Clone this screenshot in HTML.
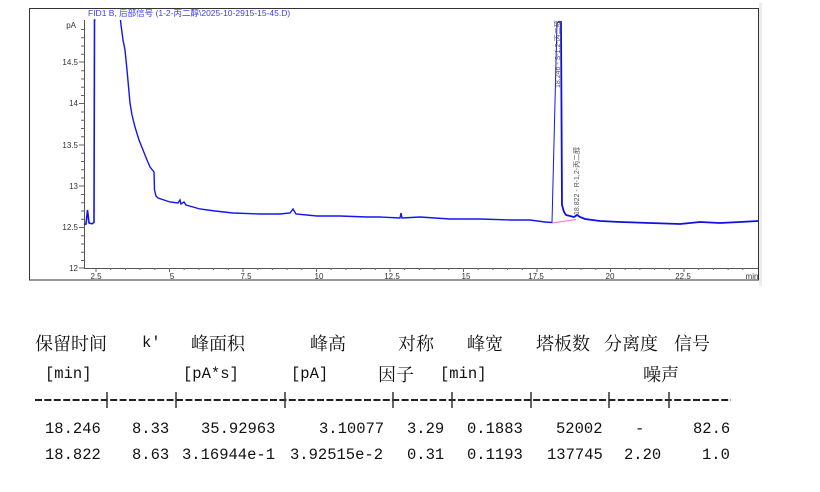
<!DOCTYPE html>
<html><head><meta charset="utf-8"><style>
html,body{margin:0;padding:0;background:#fff;width:820px;height:492px;overflow:hidden}
.t{position:absolute;font-family:"Liberation Mono","Noto Serif CJK SC",monospace;font-size:15.5px;color:#111;white-space:pre;line-height:1}
.c{font-family:"Noto Serif CJK SC","Liberation Serif",serif;font-size:18px}
</style></head><body>
<svg width="820" height="492" style="position:absolute;left:0;top:0" font-family="Liberation Sans, Noto Sans CJK SC, sans-serif">
<rect x="759" y="3" width="3" height="283" fill="#ececec"/>
<rect x="29.5" y="8.5" width="729" height="271.5" fill="none" stroke="#333" stroke-width="1"/>
<line x1="84.5" y1="20" x2="84.5" y2="268" stroke="#555"/>
<line x1="84" y1="268.5" x2="758" y2="268.5" stroke="#555"/>
<g stroke="#666" stroke-width="1">
<path d="M84 62h-5M84 103.5h-5M84 145h-5M84 186h-5M84 227.5h-5M84 268h-5"/>
<path d="M84 29.5h-3M84 37.8h-3M84 46h-3M84 54.3h-3M84 70.8h-3M84 79h-3M84 87.3h-3M84 95.5h-3M84 112h-3M84 120.3h-3M84 128.5h-3M84 136.8h-3M84 153.3h-3M84 161.5h-3M84 169.8h-3M84 178h-3M84 194.5h-3M84 202.8h-3M84 211h-3M84 219.3h-3M84 235.8h-3M84 244h-3M84 252.3h-3M84 260.5h-3"/>
<path d="M96 268v4M169.5 268v4M243 268v4M316.5 268v4M390 268v4M463.5 268v4M537 268v4M610.5 268v4M684 268v4"/>
<path d="M110.7 268v2M125.4 268v2M140.1 268v2M154.8 268v2M184.2 268v2M198.9 268v2M213.6 268v2M228.3 268v2M257.7 268v2M272.4 268v2M287.1 268v2M301.8 268v2M331.2 268v2M345.9 268v2M360.6 268v2M375.3 268v2M404.7 268v2M419.4 268v2M434.1 268v2M448.8 268v2M478.2 268v2M492.9 268v2M507.6 268v2M522.3 268v2M551.7 268v2M566.4 268v2M581.1 268v2M595.8 268v2M625.2 268v2M639.9 268v2M654.6 268v2M669.3 268v2M698.7 268v2M713.4 268v2M728.1 268v2M742.8 268v2"/>
</g>
<g font-size="8" fill="#333" text-anchor="end">
<text x="78" y="65">14.5</text><text x="78" y="106">14</text><text x="78" y="148">13.5</text><text x="78" y="189">13</text><text x="78" y="230">12.5</text><text x="78" y="271">12</text>
<text x="76" y="28">pA</text>
</g>
<g font-size="8" fill="#333" text-anchor="middle">
<text x="96" y="279">2.5</text><text x="172" y="279">5</text><text x="246" y="279">7.5</text><text x="319" y="279">10</text><text x="392" y="279">12.5</text><text x="466" y="279">15</text><text x="536" y="279">17.5</text><text x="610" y="279">20</text><text x="683" y="279">22.5</text><text x="752" y="279">min</text>
</g>
<text x="88" y="16" font-size="8.5" fill="#3c3cff">FID1 B, 后部信号 (1-2-丙二醇\2025-10-2915-15-45.D)</text>
<path d="M84 224.5L86 224L87.5 210L89 223L92 223.8L94 222.5L94.5 20L95.5 20" fill="none" stroke="#1515f0" stroke-width="1.6"/>
<path d="M120.5 20L121 25L123 40L125 50L127 70L130 103L132 115L135 127L139 140L143 150L147 160L150 167L154 172L154.5 190L156 196L158 198L164 200L170 202L178 203L180 200L181 204L184 202L186 205L200 209L215 211L233 213L260 214L280 214L290 213L293 209L296 214L317 216L340 216L367 217L380 217L400 218L401 213L402 218L420 217L450 219L480 219L510 220L530 220L545 222L552 222.5" fill="none" stroke="#1515f0" stroke-width="1.4"/>
<path d="M552 222.5L557 22" fill="none" stroke="#1515f0" stroke-width="1"/>
<path d="M558 22L561 22L562 205L564 212L566 215L570 216L574 217L577 215L580 217L585 219L600 221L620 222L650 223L680 224L700 222L720 223L740 222L758 221" fill="none" stroke="#1010e0" stroke-width="1.8"/>
<path d="M552 223L576 219.5" stroke="#ff66cc" stroke-width="1" fill="none"/>
<text transform="translate(560,88) rotate(-90)" font-size="7" fill="#555">18.246 - S-1,2-丙二醇</text>
<text transform="translate(579,215) rotate(-90)" font-size="7" fill="#555">18.822 - R-1,2-丙二醇</text>
<line x1="35" y1="400" x2="731" y2="400" stroke="#222" stroke-width="2" stroke-dasharray="7 2.4"/>
<g stroke="#333" stroke-width="1.5">
<path d="M107 392v16M176 392v16M285 392v16M393 392v16M452 392v16M531 392v16M609 392v16M669 392v16"/>
</g>
</svg>
<div class="t c" style="left:35px;top:334px">保留时间</div>
<div class="t" style="left:142px;top:336px">k'</div>
<div class="t c" style="left:191px;top:334px">峰面积</div>
<div class="t c" style="left:310px;top:334px">峰高</div>
<div class="t c" style="left:398px;top:334px">对称</div>
<div class="t c" style="left:467px;top:334px">峰宽</div>
<div class="t c" style="left:536px;top:334px">塔板数</div>
<div class="t c" style="left:604px;top:334px">分离度</div>
<div class="t c" style="left:674px;top:334px">信号</div>
<div class="t" style="left:45px;top:367px">[min]</div>
<div class="t" style="left:183px;top:367px">[pA*s]</div>
<div class="t" style="left:291px;top:367px">[pA]</div>
<div class="t c" style="left:378px;top:365px">因子</div>
<div class="t" style="left:440px;top:367px">[min]</div>
<div class="t c" style="left:643px;top:365px">噪声</div>
<div class="t" style="left:45px;top:422px">18.246</div>
<div class="t" style="left:132px;top:422px">8.33</div>
<div class="t" style="left:201px;top:422px">35.92963</div>
<div class="t" style="left:319px;top:422px">3.10077</div>
<div class="t" style="left:407px;top:422px">3.29</div>
<div class="t" style="left:467px;top:422px">0.1883</div>
<div class="t" style="left:556px;top:422px">52002</div>
<div class="t" style="left:635px;top:422px">-</div>
<div class="t" style="left:693px;top:422px">82.6</div>
<div class="t" style="left:45px;top:448px">18.822</div>
<div class="t" style="left:132px;top:448px">8.63</div>
<div class="t" style="left:182px;top:448px">3.16944e-1</div>
<div class="t" style="left:290px;top:448px">3.92515e-2</div>
<div class="t" style="left:407px;top:448px">0.31</div>
<div class="t" style="left:467px;top:448px">0.1193</div>
<div class="t" style="left:547px;top:448px">137745</div>
<div class="t" style="left:624px;top:448px">2.20</div>
<div class="t" style="left:702px;top:448px">1.0</div>
</body></html>
